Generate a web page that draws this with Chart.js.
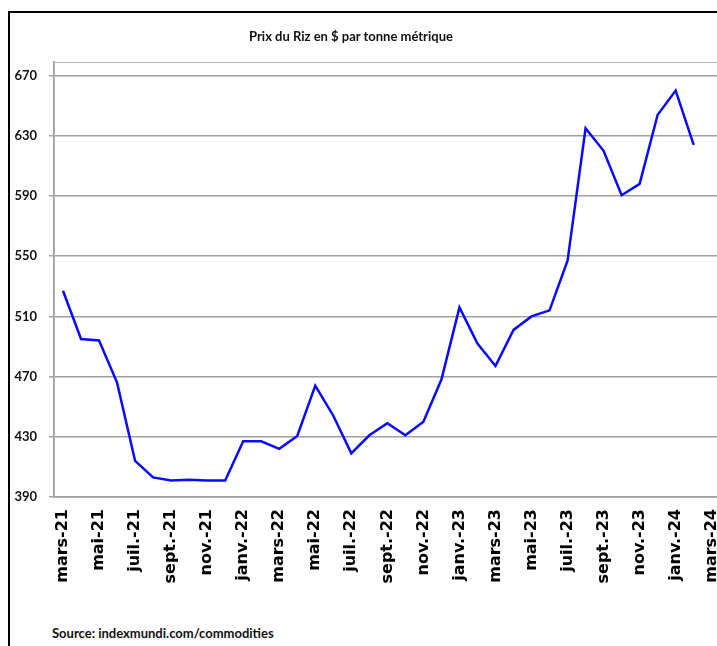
<!DOCTYPE html>
<html>
<head>
<meta charset="utf-8">
<script src="https://cdn.jsdelivr.net/npm/chart.js@4/dist/chart.umd.min.js"></script>
<style>
  html, body { margin: 0; padding: 0; background: #fff; overflow: hidden; }
  #frame { position: absolute; left: 8px; top: 11px; width: 760px; height: 660px;
           border-left: 2px solid #000; border-top: 2px solid #000; }
  #title { position: absolute; left: 0; width: 702px; top: 28px; text-align: center;
           font: bold 13px Lato, sans-serif; color: #111; }
  #source { position: absolute; left: 52px; top: 625px;
            font: bold 13px Lato, sans-serif; color: #111; }
  #wrap { position: absolute; left: 0; top: 0; }
</style>
</head>
<body>
<div id="frame"></div>
<div id="wrap"><canvas id="riceChart" width="743" height="600"></canvas></div>
<div id="title">Prix du Riz en $ par tonne métrique</div>
<div id="source">Source: indexmundi.com/commodities</div>
<script>
// monthly categories, mars-21 .. mars-24
const months = ['mars-21','avr.-21','mai-21','juin-21','juil.-21','août-21','sept.-21','oct.-21','nov.-21','déc.-21',
  'janv.-22','févr.-22','mars-22','avr.-22','mai-22','juin-22','juil.-22','août-22','sept.-22','oct.-22','nov.-22','déc.-22',
  'janv.-23','févr.-23','mars-23','avr.-23','mai-23','juin-23','juil.-23','août-23','sept.-23','oct.-23','nov.-23','déc.-23',
  'janv.-24','févr.-24','mars-24'];

// rice price, $ per metric ton
const prices = [527, 495, 494, 466, 414, 403, 401, 401.5, 401, 401,
  427, 427, 422, 430.5, 464, 444, 419, 431, 439, 431, 440, 468,
  516, 492, 477, 501, 510, 514, 547, 635, 620, 590.5, 598, 644,
  660, 624];

const yTicks = [390, 430, 470, 510, 550, 590, 630, 670];

// plot area outline (top / right)
const plotBorder = {
    id: 'plotBorder',
    beforeDatasetsDraw(chart) {
        const a = chart.chartArea, ctx = chart.ctx;
        ctx.save();
        ctx.strokeStyle = '#b0b0b0';
        ctx.lineWidth = 1;
        ctx.strokeRect(a.left + 0.5, a.top + 0.5, a.right - a.left, a.bottom - a.top);
        ctx.restore();
    }
};

new Chart(document.getElementById('riceChart'), {
    type: 'line',
    data: {
        labels: months,
        datasets: [{
            label: 'Prix du Riz',
            data: prices,
            borderColor: '#0a0aff',
            borderWidth: 2.5,
            pointRadius: 0,
            tension: 0,
            fill: false
        }]
    },
    options: {
        responsive: false,
        animation: false,
        layout: { padding: { top: 62, right: 6, left: 0, bottom: 0 } },
        plugins: {
            legend: { display: false },
            tooltip: { enabled: false }
        },
        scales: {
            x: {
                offset: true,
                afterFit(scale) { scale.height = 103; },
                grid: { display: true, drawOnChartArea: false, drawTicks: false },
                border: { color: '#a0a0a0', width: 1.5 },
                ticks: {
                    autoSkip: false,
                    minRotation: 90,
                    maxRotation: 90,
                    padding: 12,
                    color: '#000',
                    font: { family: 'DejaVu Sans', weight: 'bold', size: 16 },
                    callback(val, i) { return i % 2 === 0 ? months[i] : ''; }
                }
            },
            y: {
                min: 390,
                max: 679,
                afterFit(scale) { scale.width = 54; },
                afterBuildTicks(scale) { scale.ticks = yTicks.map(v => ({ value: v })); },
                grid: { color: '#a0a0a0', lineWidth: 1.5, tickLength: 5 },
                border: { color: '#a0a0a0', width: 1.5 },
                ticks: {
                    padding: 12,
                    color: '#111',
                    font: { family: 'Lato', weight: 'bold', size: 13 }
                }
            }
        }
    },
    plugins: [plotBorder]
});
</script>
</body>
</html>
